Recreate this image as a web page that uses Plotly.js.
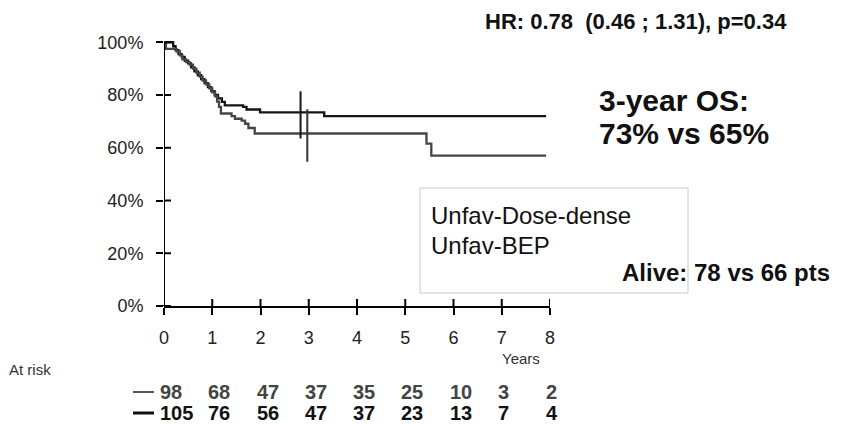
<!DOCTYPE html>
<html>
<head>
<meta charset="utf-8">
<script src="https://cdn.plot.ly/plotly-3.0.1.min.js"></script>
<style>html,body{margin:0;padding:0;background:#fff;}#chart{width:845px;height:425px;}</style>
</head>
<body>
<div id="chart"></div>
<script>
// ---- data ----
const ddName = "Unfav-Dose-dense";
const bepName = "Unfav-BEP";
const ddTime = [0, 0.19, 0.24, 0.30, 0.37, 0.43, 0.50, 0.56, 0.63, 0.70, 0.77, 0.84, 0.91, 0.98, 1.05, 1.12, 1.20, 1.26, 1.64, 1.71, 1.99, 3.32, 7.92];
const ddSurv = [100, 98.5, 97, 95.5, 94.5, 93, 92, 90.5, 89, 87.5, 86, 84.5, 83, 81.5, 80, 78.7, 77.4, 76.1, 75.5, 74.5, 73.4, 72.0, 72.0];
const bepTime = [0, 0.04, 0.26, 0.33, 0.38, 0.46, 0.53, 0.60, 0.67, 0.74, 0.80, 0.87, 0.94, 1.00, 1.06, 1.10, 1.14, 1.18, 1.40, 1.47, 1.61, 1.68, 1.75, 1.88, 5.44, 5.54, 7.92];
const bepSurv = [100, 97.5, 96.5, 95, 93.5, 92.5, 91.5, 90, 88.5, 87, 85.5, 84, 82.5, 81, 79.5, 77.5, 75.5, 73, 72, 71, 70.3, 69.1, 67.5, 65.4, 61.6, 57.0, 57.0];
// 3-year reference marks (vertical bars)
const markX = [2.83, 2.97];
const markLow = [63.5, 54.7];
const markHigh = [81.4, 74.6];
// axes
const xTicks = [0, 1, 2, 3, 4, 5, 6, 7, 8];
const yTicks = [0, 20, 40, 60, 80, 100];
const yTickText = ["0%", "20%", "40%", "60%", "80%", "100%"];
// numbers at risk
const atRiskYears = [0, 1, 2, 3, 4, 5, 6, 7, 8];
const atRiskRow1 = [98, 68, 47, 37, 35, 25, 10, 3, 2];
const atRiskRow2 = [105, 76, 56, 47, 37, 23, 13, 7, 4];
// texts
const titleText = "HR: 0.78  (0.46 ; 1.31), p=0.34";
const osLine1 = "3-year OS:";
const osLine2 = "73% vs 65%";
const aliveText = "Alive: 78 vs 66 pts";
const xAxisTitle = "Years";
const atRiskLabel = "At risk";

// ---- layout helpers (pixel -> paper) ----
const L = 164, R = 550, T = 37, B = 306;
const W = R - L, H = B - T;
const PX = p => (p - L) / W;
const PY = p => (B - p) / H;
const FONT = "Liberation Sans, Arial, Helvetica, sans-serif";
const TICKIN = 7; // inner half of the crossing ticks, px

const traces = [
  {x: ddTime, y: ddSurv, name: ddName, type: "scatter", mode: "lines",
   line: {shape: "hv", color: "#151515", width: 2.3}, showlegend: false},
  {x: bepTime, y: bepSurv, name: bepName, type: "scatter", mode: "lines",
   line: {shape: "hv", color: "#454545", width: 2.3}, showlegend: false}
];
markX.forEach((mx, i) => {
  traces.push({x: [mx, mx], y: [markLow[i], markHigh[i]], type: "scatter", mode: "lines",
    line: {color: i === 0 ? "#151515" : "#333", width: 2}, showlegend: false, hoverinfo: "skip"});
});

const annotations = [];
annotations.push({xref: "paper", yref: "paper", x: PX(597), y: PY(100), xanchor: "left", yanchor: "middle",
  text: "<b>" + osLine1 + "</b>", showarrow: false, font: {family: FONT, size: 30, color: "#111"}});
annotations.push({xref: "paper", yref: "paper", x: PX(597), y: PY(133), xanchor: "left", yanchor: "middle",
  text: "<b>" + osLine2 + "</b>", showarrow: false, font: {family: FONT, size: 30, color: "#111"}});
annotations.push({xref: "paper", yref: "paper", x: PX(429), y: PY(215), xanchor: "left", yanchor: "middle",
  text: ddName, showarrow: false, font: {family: FONT, size: 24, color: "#111"}});
annotations.push({xref: "paper", yref: "paper", x: PX(429), y: PY(245), xanchor: "left", yanchor: "middle",
  text: bepName, showarrow: false, font: {family: FONT, size: 24, color: "#111"}});
annotations.push({xref: "paper", yref: "paper", x: PX(832), y: PY(272), xanchor: "right", yanchor: "middle",
  text: "<b>" + aliveText + "</b>", showarrow: false, font: {family: FONT, size: 24, color: "#111"}});
annotations.push({xref: "paper", yref: "paper", x: PX(521), y: PY(358), xanchor: "center", yanchor: "middle",
  text: xAxisTitle, showarrow: false, font: {family: FONT, size: 15, color: "#333"}});
annotations.push({xref: "paper", yref: "paper", x: PX(30), y: PY(370), xanchor: "center", yanchor: "middle",
  text: atRiskLabel, showarrow: false, font: {family: FONT, size: 15, color: "#333"}});
atRiskYears.forEach((yr, i) => {
  annotations.push({xref: "x", yref: "paper", x: yr, y: PY(392), xanchor: "left", yanchor: "middle", xshift: -6,
    text: "<b>" + atRiskRow1[i] + "</b>", showarrow: false, font: {family: FONT, size: 20, color: "#444"}});
  annotations.push({xref: "x", yref: "paper", x: yr, y: PY(413), xanchor: "left", yanchor: "middle", xshift: -6,
    text: "<b>" + atRiskRow2[i] + "</b>", showarrow: false, font: {family: FONT, size: 20, color: "#111"}});
});

const shapes = [
  // y axis line (0% to 100%)
  {type: "line", xref: "x", yref: "y", x0: 0, x1: 0, y0: 0, y1: 100, line: {color: "#000", width: 2}},
  // small left extension of the x axis line
  {type: "line", xref: "paper", yref: "y", x0: PX(157), x1: 0, y0: 0, y1: 0, line: {color: "#000", width: 2}},
  // legend box
  {type: "rect", xref: "paper", yref: "paper", x0: PX(420), x1: PX(688), y0: PY(293), y1: PY(188),
   line: {color: "#c8c8c8", width: 1}, fillcolor: "rgba(0,0,0,0)"},
  // at-risk row markers
  {type: "line", xref: "paper", yref: "paper", x0: PX(133), x1: PX(154), y0: PY(392), y1: PY(392), line: {color: "#555", width: 2}},
  {type: "line", xref: "paper", yref: "paper", x0: PX(133), x1: PX(154), y0: PY(413), y1: PY(413), line: {color: "#111", width: 3}}
];
// inner halves of the crossing ticks
xTicks.forEach(t => shapes.push({type: "line", xref: "x", yref: "paper", x0: t, x1: t, y0: 0, y1: TICKIN / H,
  line: {color: "#000", width: 2}}));
yTicks.forEach(t => shapes.push({type: "line", xref: "paper", yref: "y", x0: 0, x1: TICKIN / W, y0: t, y1: t,
  line: {color: "#000", width: 2}}));

const layout = {
  width: 845, height: 425,
  margin: {l: L, r: 845 - R, t: T, b: 425 - B, pad: 0},
  paper_bgcolor: "#fff", plot_bgcolor: "#fff",
  showlegend: false,
  title: {text: "<b>" + titleText + "</b>", x: 485 / 845, xanchor: "left", xref: "container",
    y: 1 - 21 / 425, yanchor: "middle", yref: "container",
    font: {family: FONT, size: 22, color: "#111"}},
  xaxis: {range: [0, 8], tickvals: xTicks, ticktext: xTicks.map(String), ticks: "outside", ticklen: 7, tickwidth: 2,
    tickcolor: "#000", showline: true, linecolor: "#000", linewidth: 2, showgrid: false, zeroline: false,
    ticklabelstandoff: 7, tickfont: {family: FONT, size: 18, color: "#222"}, fixedrange: true},
  yaxis: {range: [0, 102], tickvals: yTicks, ticktext: yTickText, ticks: "outside", ticklen: 7, tickwidth: 2,
    tickcolor: "#000", showline: false, showgrid: false, zeroline: false,
    ticklabelstandoff: 9, tickfont: {family: FONT, size: 18, color: "#222"}, fixedrange: true},
  annotations: annotations,
  shapes: shapes
};

Plotly.newPlot("chart", traces, layout, {displayModeBar: false, staticPlot: true});
</script>
</body>
</html>
